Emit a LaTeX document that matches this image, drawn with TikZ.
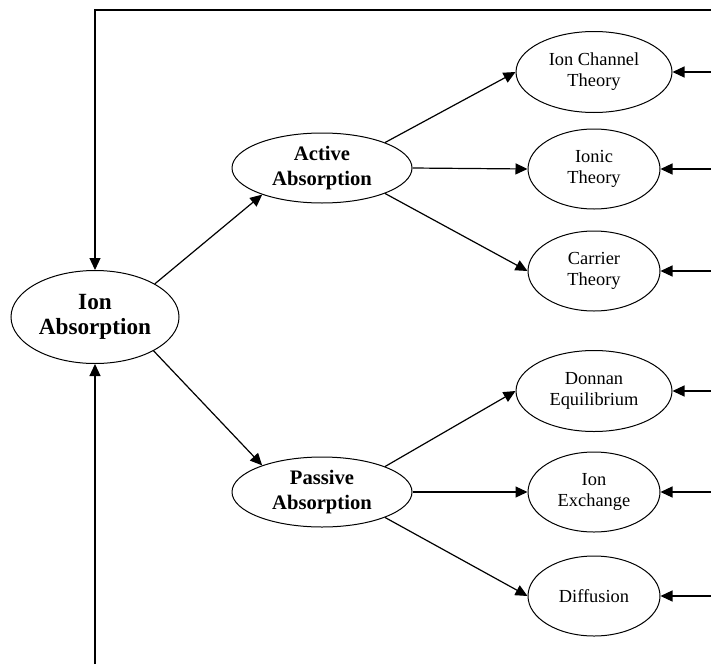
\documentclass[tikz,border=0pt]{standalone}
\usepackage{fontspec}
\setmainfont{Liberation Serif}
\usetikzlibrary{arrows.meta,positioning,shapes.geometric}

\begin{document}
\begin{tikzpicture}[
  x=0.5pt, y=-0.5pt,
  oval/.style={draw, ellipse, align=center, inner sep=0pt, line width=0.5pt},
  root/.style={oval, minimum width=84pt, minimum height=46.5pt,
               font=\bfseries\fontsize{11.6}{12.5}\selectfont},
  mid/.style={oval, minimum width=90pt, minimum height=35pt,
              font=\bfseries\fontsize{10.3}{12.8}\selectfont},
  wideleaf/.style={oval, minimum width=78pt, minimum height=40.5pt,
                   font=\fontsize{9.2}{10.5}\selectfont},
  leaf/.style={wideleaf, minimum width=66pt, minimum height=40pt},
  arr/.style={-{Triangle[length=6pt,width=5.5pt]}, line width=0.6pt}
]
\useasboundingbox (0,0) rectangle (711,664);

\node[root] (ion) at (95,317) {Ion\\Absorption};

\node[mid] (active) at (322,168) {Active\\Absorption};
\node[mid] (passive) at (322,492) {Passive\\Absorption};

\node[wideleaf] (chan) at (594,72) {Ion Channel\\Theory};
\node[leaf] (ionic) at (594,169) {Ionic\\Theory};
\node[leaf] (carrier) at (594,271) {Carrier\\Theory};
\node[wideleaf] (donnan) at (594,391) {Donnan\\Equilibrium};
\node[leaf] (exch) at (594,492) {Ion\\Exchange};
\node[leaf] (diff) at (594,596) {Diffusion};

\coordinate (loopT) at (711,10);
\coordinate (loopB) at (95,664);

\draw[arr] (ion.29) -- (active.204);
\draw[arr] (ion.-30) -- (passive.156);
\draw[arr] (active.22) -- (chan.west);
\draw[arr] (active.east) -- (ionic.west);
\draw[arr] (active.-22) -- (carrier.west);
\draw[arr] (passive.22) -- (donnan.west);
\draw[arr] (passive.east) -- (exch.west);
\draw[arr] (passive.-22) -- (diff.west);

% feedback from the right
\draw[arr] (loopT) -| (ion.north);
\draw[arr] (loopB) -- (ion.south);
\foreach \n in {chan,ionic,carrier,donnan,exch,diff}
  \draw[arr] (\n.east -| loopT) -- (\n.east);
\end{tikzpicture}
\end{document}
